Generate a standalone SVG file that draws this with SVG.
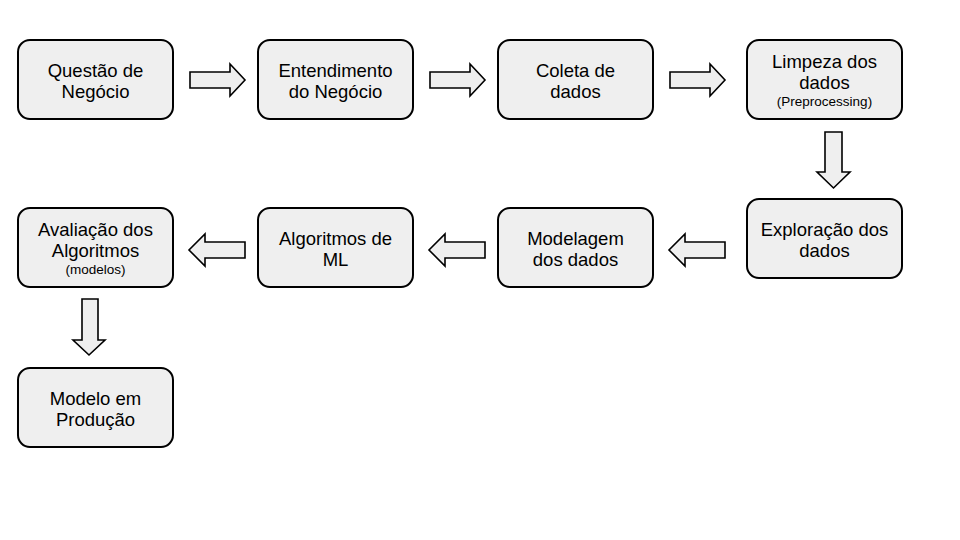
<svg xmlns="http://www.w3.org/2000/svg" width="960" height="540" viewBox="0 0 960 540">
<style>
.box{fill:#efefef;stroke:#000;stroke-width:2}
.arr{fill:#efefef;stroke:#000;stroke-width:1.6;stroke-linejoin:miter}
.t{font-family:"Liberation Sans",Arial,sans-serif;font-size:18.5px;fill:#000;text-anchor:middle}
.s{font-family:"Liberation Sans",Arial,sans-serif;font-size:13.5px;fill:#000;text-anchor:middle}
</style>
<rect width="960" height="540" fill="#fff"/>
<g id="connectors">
<polygon class="arr" points="190,72 230,72 230,64 245,80 230,96 230,88 190,88"/>
<polygon class="arr" points="430,72 470,72 470,64 485,80 470,96 470,88 430,88"/>
<polygon class="arr" points="670,72 710,72 710,64 725,80 710,96 710,88 670,88"/>
<polygon class="arr" points="825,132 842,132 842,172 850,172 833.5,188 817,172 825,172"/>
<polygon class="arr" points="725,242 685,242 685,234 669,250 685,266 685,258 725,258"/>
<polygon class="arr" points="485,242 445,242 445,234 429,250 445,266 445,258 485,258"/>
<polygon class="arr" points="245,242 205,242 205,234 189,250 205,266 205,258 245,258"/>
<polygon class="arr" points="82,299 98,299 98,340 105,340 89,355 73,340 82,340"/>
</g>
<g id="n1"><rect class="box" x="18" y="40" width="155" height="79" rx="12"/><text class="t" x="95.5" y="76.5">Questão de</text><text class="t" x="95.5" y="98">Negócio</text></g>
<g id="n2"><rect class="box" x="258" y="40" width="155" height="79" rx="12"/><text class="t" x="335.5" y="76.5">Entendimento</text><text class="t" x="335.5" y="98">do Negócio</text></g>
<g id="n3"><rect class="box" x="498" y="40" width="155" height="79" rx="12"/><text class="t" x="575.5" y="76.5">Coleta de</text><text class="t" x="575.5" y="98">dados</text></g>
<g id="n4"><rect class="box" x="747" y="40" width="155" height="79" rx="12"/><text class="t" x="824.5" y="67.5">Limpeza dos</text><text class="t" x="824.5" y="88.5">dados</text><text class="s" x="824.5" y="105.5">(Preprocessing)</text></g>
<g id="n5"><rect class="box" x="747" y="199" width="155" height="79" rx="12"/><text class="t" x="824.5" y="235.5">Exploração dos</text><text class="t" x="824.5" y="257">dados</text></g>
<g id="n6"><rect class="box" x="498" y="208" width="155" height="79" rx="12"/><text class="t" x="575.5" y="244.5">Modelagem</text><text class="t" x="575.5" y="266">dos dados</text></g>
<g id="n7"><rect class="box" x="258" y="208" width="155" height="79" rx="12"/><text class="t" x="335.5" y="244.5">Algoritmos de</text><text class="t" x="335.5" y="266">ML</text></g>
<g id="n8"><rect class="box" x="18" y="208" width="155" height="79" rx="12"/><text class="t" x="95.5" y="235.5">Avaliação dos</text><text class="t" x="95.5" y="256.5">Algoritmos</text><text class="s" x="95.5" y="273.5">(modelos)</text></g>
<g id="n9"><rect class="box" x="18" y="368" width="155" height="79" rx="12"/><text class="t" x="95.5" y="404.5">Modelo em</text><text class="t" x="95.5" y="426">Produção</text></g>
</svg>
